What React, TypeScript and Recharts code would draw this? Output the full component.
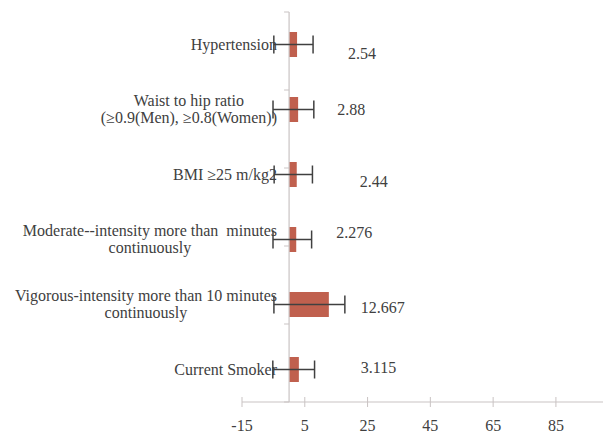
import React from 'react';
import { BarChart, Bar, XAxis, YAxis, ErrorBar, ReferenceLine, LabelList } from 'recharts';

const categories = [
  'Hypertension',
  'Waist to hip ratio\n(≥0.9(Men), ≥0.8(Women))',
  'BMI ≥25 m/kg2',
  'Moderate--intensity more than  minutes\ncontinuously',
  'Vigorous-intensity more than 10 minutes\ncontinuously',
  'Current Smoker',
];
const values = [2.54, 2.88, 2.44, 2.276, 12.667, 3.115];
const valueLabels = ['2.54', '2.88', '2.44', '2.276', '12.667', '3.115'];
const errorMinus = [7.4, 8.0, 7.2, 7.4, 17.5, 8.3];
const errorPlus = [5.1, 5.0, 5.0, 4.9, 5.1, 5.0];
const xTicks = [-15, 5, 25, 45, 65, 85];
const bandBoundaries = [0, 1, 2, 3, 4, 5, 6];

// label placement relative to the end of each bar (layout only)
const LABEL_OFFSETS: [number, number][] = [
  [51, 9.5],
  [39, 0.5],
  [63, 7],
  [40, -7],
  [32, 3.5],
  [62, -1.5],
];

const FONT = '"Liberation Serif", "Times New Roman", serif';
const TEXT = '#404040';
const AXIS = '#C9C3C3';
const BAR = '#C0604E';
const ERR = '#404040';

const data = categories.map((name, i) => ({
  name,
  value: values[i],
  err: [errorMinus[i], errorPlus[i]],
  idx: i,
}));

let ctx: CanvasRenderingContext2D | null = null;
function measure(t: string): number {
  if (!ctx && typeof document !== 'undefined') {
    ctx = document.createElement('canvas').getContext('2d');
  }
  if (!ctx) return t.length * 7;
  ctx.font = `16px ${FONT}`;
  return ctx.measureText(t).width;
}

const YTick = (props: any) => {
  const { x, y, payload } = props;
  const lines: string[] = String(payload.value).split('\n');
  const right = x + 35;
  const maxW = Math.max(...lines.map(measure));
  const cx = right - maxW / 2;
  const n = lines.length;
  return (
    <g>
      {lines.map((l, i) => (
        <text
          key={i}
          x={cx}
          y={y + (i - (n - 1) / 2) * 17 + 5}
          textAnchor="middle"
          fill={TEXT}
          fontSize={16}
          fontFamily={FONT}
          style={{ whiteSpace: 'pre' }}
        >
          {l}
        </text>
      ))}
    </g>
  );
};

const XTick = (props: any) => {
  const { x, y, payload } = props;
  return (
    <g>
      <line x1={x} x2={x} y1={y - 5} y2={y + 5} stroke={AXIS} strokeWidth={1} />
      <text x={x} y={y + 29} textAnchor="middle" fill={TEXT} fontSize={16} fontFamily={FONT}>
        {payload.value}
      </text>
    </g>
  );
};

const ValueLabel = (props: any) => {
  const { x, y, width, height, value } = props;
  const i = Number(value);
  const [dx, dy] = LABEL_OFFSETS[i];
  return (
    <text
      x={x + width + dx}
      y={y + height / 2 + dy + 5}
      fill={TEXT}
      fontSize={16}
      fontFamily={FONT}
    >
      {valueLabels[i]}
    </text>
  );
};

export default function App() {
  return (
    <div style={{ position: 'absolute', left: 0, top: 0, background: '#fff' }}>
      <BarChart
        width={603}
        height={434}
        data={data}
        layout="vertical"
        margin={{ top: 12, right: 0, bottom: 0, left: 0 }}
        barSize={25}
      >
        <XAxis
          type="number"
          domain={[-15, 100]}
          ticks={xTicks}
          allowDataOverflow
          height={32}
          tickSize={0}
          tickMargin={0}
          tickLine={false}
          axisLine={{ stroke: AXIS, strokeWidth: 1 }}
          tick={<XTick />}
          interval={0}
        />
        <YAxis
          type="category"
          dataKey="name"
          width={242}
          tickSize={0}
          tickMargin={0}
          axisLine={false}
          tickLine={false}
          tick={<YTick />}
          interval={0}
        />
        <YAxis yAxisId="band" type="number" domain={[0, 6]} hide allowDataOverflow />
        <ReferenceLine x={0} stroke={AXIS} strokeWidth={1.2} />
        {bandBoundaries.map((k) => (
          <ReferenceLine
            key={k}
            yAxisId="band"
            segment={[
              { x: -1.6, y: k },
              { x: 0, y: k },
            ]}
            stroke={AXIS}
            strokeWidth={1}
          />
        ))}
        <Bar dataKey="value" fill={BAR} isAnimationActive={false}>
          <ErrorBar dataKey="err" direction="x" width={9} stroke={ERR} strokeWidth={1.5} />
          <LabelList dataKey="idx" content={<ValueLabel />} />
        </Bar>
      </BarChart>
    </div>
  );
}
